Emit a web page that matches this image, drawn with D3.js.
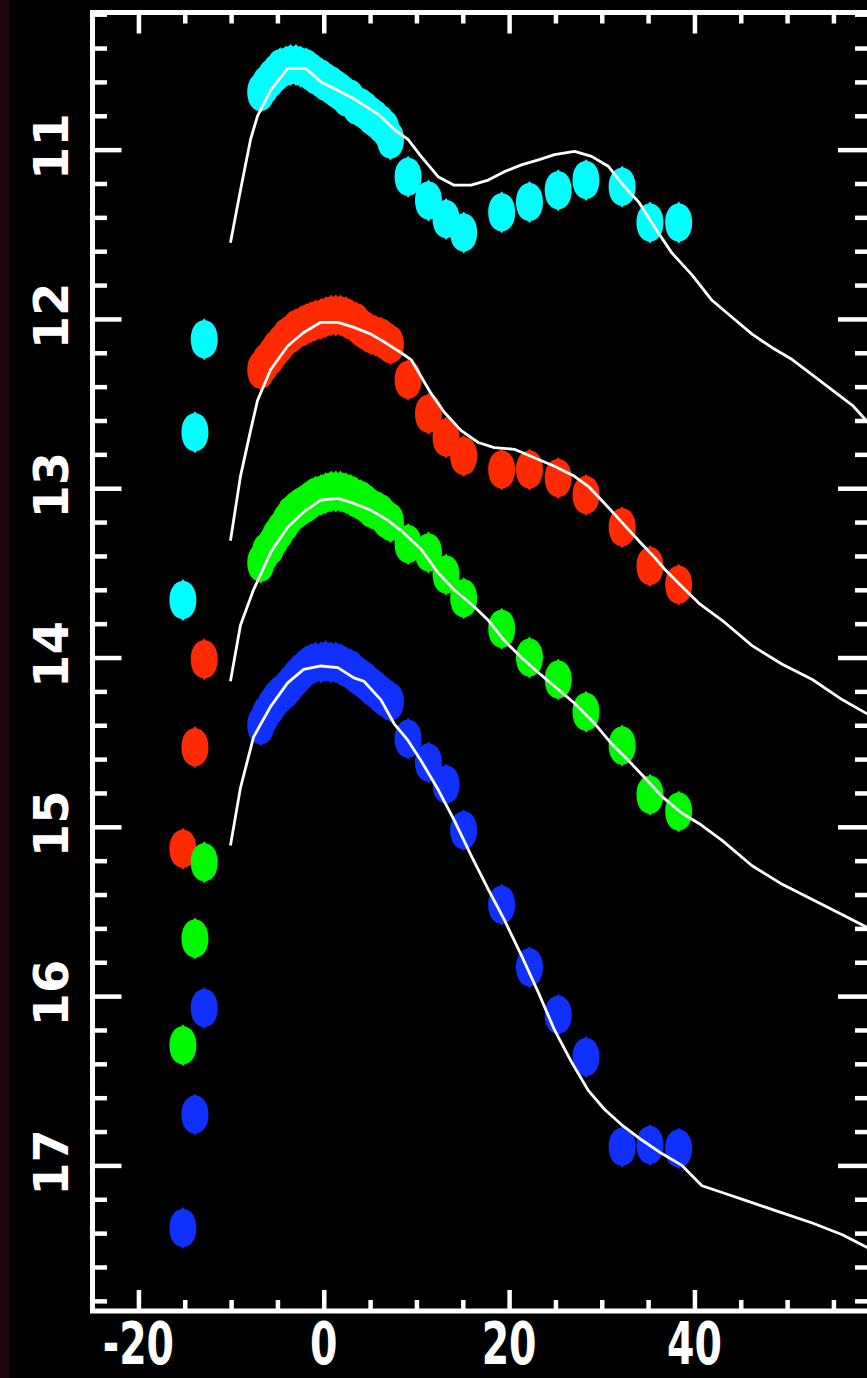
<!DOCTYPE html>
<html>
<head>
<meta charset="utf-8">
<script src="https://d3js.org/d3.v7.min.js"></script>
<style>
  html, body { margin: 0; padding: 0; background: #000; }
  svg { display: block; }
</style>
</head>
<body>
<svg id="chart" width="867" height="1378"></svg>
<script>
// days relative to maximum
const bandDays = [-6.8, -6.3, -5.7, -5.2, -4.7, -4.1, -3.6, -3.0, -2.5, -1.9, -1.4, -0.9, -0.3, 0.2, 0.8, 1.3, 1.8, 2.4, 2.9, 3.5, 4.0, 4.5, 5.1, 5.6, 6.2, 6.7, 7.2];
const lateDays = [9.1, 11.3, 13.2, 15.1, 19.2, 22.2, 25.3, 28.3, 32.2, 35.2, 38.3];
const earlyDays = [-12.9, -13.9, -15.2];

// observed magnitudes (offset per band)
const cyanBand = [10.66, 10.62, 10.58, 10.55, 10.52, 10.51, 10.50, 10.50, 10.51, 10.52, 10.54, 10.56, 10.58, 10.60, 10.62, 10.64, 10.66, 10.69, 10.70, 10.74, 10.75, 10.77, 10.80, 10.82, 10.85, 10.88, 10.94];
const redBand = [12.30, 12.26, 12.22, 12.18, 12.15, 12.11, 12.09, 12.06, 12.05, 12.03, 12.02, 12.01, 12.00, 11.99, 11.98, 11.98, 11.98, 11.99, 12.01, 12.02, 12.05, 12.07, 12.09, 12.10, 12.11, 12.13, 12.15];
const greenBand = [13.44, 13.38, 13.34, 13.29, 13.25, 13.20, 13.16, 13.13, 13.11, 13.09, 13.07, 13.05, 13.04, 13.03, 13.02, 13.02, 13.02, 13.03, 13.04, 13.06, 13.07, 13.09, 13.12, 13.13, 13.15, 13.18, 13.20];
const blueBand = [14.40, 14.34, 14.29, 14.25, 14.22, 14.19, 14.16, 14.12, 14.09, 14.06, 14.04, 14.03, 14.03, 14.02, 14.03, 14.03, 14.04, 14.06, 14.07, 14.10, 14.12, 14.14, 14.17, 14.19, 14.22, 14.24, 14.26];

const cyanLate = [11.16, 11.30, 11.41, 11.49, 11.37, 11.31, 11.24, 11.18, 11.22, 11.43, 11.43];
const redLate = [12.36, 12.56, 12.70, 12.81, 12.89, 12.89, 12.94, 13.04, 13.23, 13.46, 13.57];
const greenLate = [13.33, 13.38, 13.51, 13.65, 13.83, 14.00, 14.13, 14.32, 14.52, 14.81, 14.91];
const blueLate = [14.48, 14.62, 14.75, 15.02, 15.46, 15.83, 16.11, 16.36, 16.89, 16.88, 16.90];

const cyanEarly = [12.12, 12.67, 13.66];
const redEarly = [14.01, 14.53, 15.13];
const greenEarly = [15.21, 15.66, 16.29];
const blueEarly = [16.07, 16.70, 17.37];

// template light curves
const cyanTplDays = [-10.07, -8.99, -7.90, -7.14, -5.74, -3.90, -1.95, -0.32, 1.52, 3.25, 5.85, 7.58, 9.09, 10.50, 12.34, 14.07, 15.91, 17.75, 19.49, 21.33, 23.17, 24.90, 27.06, 28.90, 30.74, 32.15, 33.99, 35.72, 37.56, 39.73, 41.89, 44.06, 46.22, 48.39, 50.55, 52.72, 54.88, 57.05, 59.2];
const cyanTplMags = [11.55, 11.24, 10.94, 10.80, 10.65, 10.52, 10.52, 10.60, 10.65, 10.70, 10.79, 10.88, 10.94, 11.04, 11.16, 11.21, 11.21, 11.18, 11.13, 11.09, 11.06, 11.03, 11.01, 11.04, 11.10, 11.20, 11.31, 11.46, 11.61, 11.74, 11.89, 11.99, 12.09, 12.17, 12.24, 12.33, 12.42, 12.51, 12.64];
const redTplDays = [-10.07, -8.99, -7.90, -7.14, -5.74, -3.90, -2.17, -0.32, 1.52, 3.25, 5.09, 6.93, 8.34, 9.42, 10.50, 11.58, 12.99, 14.83, 16.67, 18.40, 20.57, 22.73, 24.90, 27.06, 28.58, 30.31, 32.15, 33.99, 35.72, 36.81, 38.65, 40.49, 42.98, 46.22, 49.47, 52.72, 55.97, 59.2];
const redTplMags = [13.31, 12.93, 12.66, 12.48, 12.30, 12.16, 12.08, 12.02, 12.02, 12.05, 12.09, 12.15, 12.20, 12.24, 12.34, 12.44, 12.55, 12.66, 12.73, 12.76, 12.77, 12.82, 12.87, 12.93, 12.99, 13.09, 13.20, 13.31, 13.41, 13.48, 13.58, 13.68, 13.78, 13.93, 14.04, 14.13, 14.25, 14.35];
const greenTplDays = [-10.07, -8.99, -7.58, -6.82, -5.74, -3.90, -2.17, -0.32, 1.52, 3.25, 5.09, 6.93, 8.34, 10.50, 12.34, 14.07, 16.24, 17.75, 19.49, 21.33, 23.17, 24.90, 27.06, 29.23, 31.07, 32.91, 34.64, 36.48, 38.65, 40.49, 42.98, 46.22, 49.47, 52.72, 55.97, 59.2];
const greenTplMags = [14.14, 13.81, 13.60, 13.51, 13.38, 13.23, 13.14, 13.07, 13.06, 13.09, 13.13, 13.19, 13.25, 13.36, 13.50, 13.60, 13.70, 13.78, 13.90, 14.00, 14.09, 14.17, 14.27, 14.39, 14.51, 14.61, 14.71, 14.82, 14.92, 14.98, 15.08, 15.23, 15.34, 15.43, 15.52, 15.61];
const blueTplDays = [-10.07, -8.99, -7.58, -5.74, -3.90, -2.17, -0.32, 1.52, 3.25, 4.33, 6.17, 7.58, 9.09, 10.50, 12.34, 14.07, 15.91, 17.75, 19.49, 21.33, 23.17, 24.90, 26.74, 28.58, 30.31, 32.15, 34.32, 36.48, 38.65, 40.81, 42.98, 46.22, 49.47, 52.72, 55.97, 59.2];
const blueTplMags = [15.11, 14.77, 14.47, 14.29, 14.15, 14.07, 14.05, 14.06, 14.12, 14.14, 14.25, 14.39, 14.49, 14.61, 14.78, 14.96, 15.17, 15.37, 15.55, 15.76, 15.98, 16.20, 16.39, 16.56, 16.67, 16.76, 16.85, 16.93, 17.00, 17.12, 17.16, 17.22, 17.28, 17.34, 17.41, 17.50];

const xMajor = [-20, 0, 20, 40];
const yMajor = [11, 12, 13, 14, 15, 16, 17];

const series = [
  { color: "#00ffff", band: cyanBand, late: cyanLate, early: cyanEarly, tplDays: cyanTplDays, tplMags: cyanTplMags },
  { color: "#ff2a00", band: redBand, late: redLate, early: redEarly, tplDays: redTplDays, tplMags: redTplMags },
  { color: "#00f800", band: greenBand, late: greenLate, early: greenEarly, tplDays: greenTplDays, tplMags: greenTplMags },
  { color: "#1030ff", band: blueBand, late: blueLate, early: blueEarly, tplDays: blueTplDays, tplMags: blueTplMags }
];

const svg = d3.select("#chart");
const W = 867, H = 1378;
const frameL = 92.5, frameR = 870, frameT = 12.5, frameB = 1311;

const x = d3.scaleLinear().domain([-25, 59]).range([92.1, 870.5]);
const y = d3.scaleLinear().domain([10.19, 17.86]).range([frameT, frameB]);

svg.append("rect").attr("width", W).attr("height", H).attr("fill", "#000");
svg.append("rect").attr("width", 9).attr("height", H).attr("fill", "#1c0612");

const plot = svg.append("g");

// lemon-shaped marker (ellipse with small tips)
const marker = "M0,-21 L1.5,-19 C9,-18 13.5,-10 13.5,0 C13.5,10 9,18 1.5,19 L0,21 L-1.5,19 C-9,18 -13.5,10 -13.5,0 C-13.5,-10 -9,-18 -1.5,-19 Z";

series.forEach(s => {
  const pts = [];
  s.early.forEach((m, i) => pts.push([earlyDays[i], m]));
  s.band.forEach((m, i) => pts.push([bandDays[i], m]));
  s.late.forEach((m, i) => pts.push([lateDays[i], m]));
  plot.append("g")
    .selectAll("path")
    .data(pts)
    .enter()
    .append("path")
    .attr("d", marker)
    .attr("transform", d => `translate(${x(d[0])},${y(d[1])})`)
    .attr("fill", s.color);
});

const line = d3.line().x(d => x(d[0])).y(d => y(d[1]));
series.forEach(s => {
  plot.append("path")
    .datum(s.tplDays.map((d, i) => [d, s.tplMags[i]]))
    .attr("d", line)
    .attr("fill", "none")
    .attr("stroke", "#fff")
    .attr("stroke-width", 2.8)
    .attr("stroke-linejoin", "round");
});

// axes
const xMinor = d3.range(-25, 60, 5).filter(v => !xMajor.includes(v));
const yMinor = d3.range(51, 90).map(v => +(v * 0.2).toFixed(1)).filter(v => !yMajor.includes(v));

function styleAxis(g) {
  g.select(".domain").remove();
  g.selectAll("line").attr("stroke", "#fff").attr("stroke-width", 4.5);
  g.selectAll("text").remove();
}

[[xMajor, 21], [xMinor, 11]].forEach(([vals, len]) => {
  svg.append("g").attr("transform", `translate(0,${frameB})`)
    .call(d3.axisTop(x).tickValues(vals).tickSize(len)).call(styleAxis);
  svg.append("g").attr("transform", `translate(0,${frameT})`)
    .call(d3.axisBottom(x).tickValues(vals).tickSize(len)).call(styleAxis);
});
[[yMajor, 29, 32], [yMinor, 14.5, 15]].forEach(([vals, lenL, lenR]) => {
  svg.append("g").attr("transform", `translate(${frameL},0)`)
    .call(d3.axisRight(y).tickValues(vals).tickSize(lenL)).call(styleAxis);
  svg.append("g").attr("transform", `translate(${frameR},0)`)
    .call(d3.axisLeft(y).tickValues(vals).tickSize(lenR)).call(styleAxis);
});

svg.append("rect")
  .attr("x", frameL).attr("y", frameT)
  .attr("width", frameR - frameL).attr("height", frameB - frameT)
  .attr("fill", "none").attr("stroke", "#fff").attr("stroke-width", 5);

// tick labels
svg.append("g").selectAll("g")
  .data(xMajor)
  .enter()
  .append("g")
  .attr("transform", d => `translate(${x(d)},1363.5)`)
  .append("text")
  .attr("transform", "scale(0.68,1)")
  .attr("text-anchor", "middle")
  .attr("font-family", "DejaVu Sans")
  .attr("font-weight", "bold")
  .attr("font-size", 58)
  .attr("fill", "#fff")
  .text(d => d);

svg.append("g").selectAll("g")
  .data(yMajor)
  .enter()
  .append("g")
  .attr("transform", d => `translate(68,${y(d) - 3}) rotate(-90)`)
  .append("text")
  .attr("text-anchor", "middle")
  .attr("font-family", "DejaVu Sans")
  .attr("font-weight", "bold")
  .attr("font-size", 48)
  .attr("fill", "#fff")
  .text(d => d);
</script>
</body>
</html>
